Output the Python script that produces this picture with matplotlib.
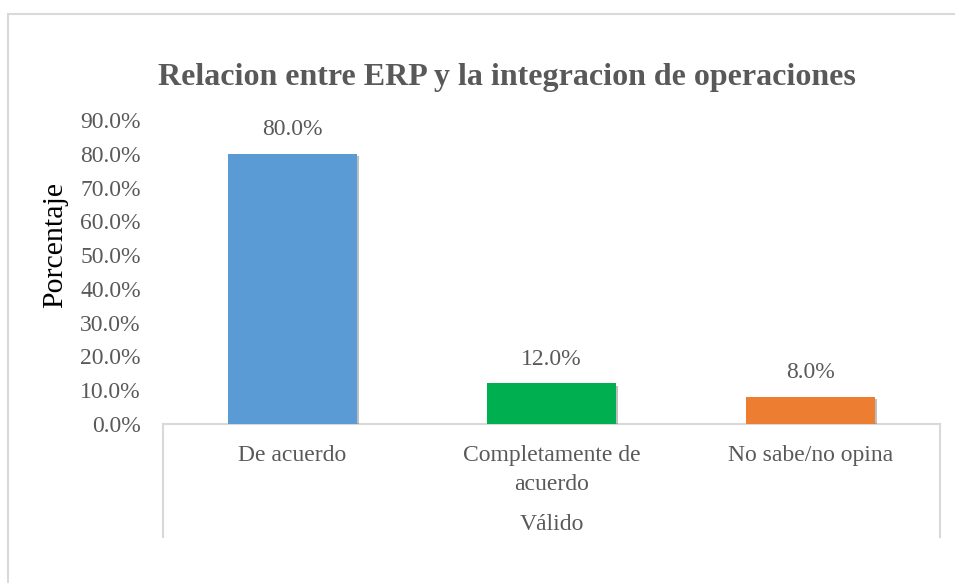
import matplotlib
matplotlib.use("Agg")
import matplotlib.pyplot as plt
from matplotlib.patches import Rectangle
from matplotlib.lines import Line2D
from matplotlib.ticker import PercentFormatter
import matplotlib.patheffects as pe

categories = ["De acuerdo", "Completamente de\nacuerdo", "No sabe/no opina"]
values = [80.0, 12.0, 8.0]
colors = ["#5B9BD5", "#00B050", "#ED7D31"]
yticks = [0, 10, 20, 30, 40, 50, 60, 70, 80, 90]
title = "Relacion entre ERP y la integracion de operaciones"
ylabel = "Porcentaje"
group_label = "Válido"

plt.rcParams['font.family'] = ['Liberation Serif', 'DejaVu Serif']
txt = "#595959"
grid = "#D9D9D9"
fs = 17

fig = plt.figure(figsize=(9.55, 5.83), dpi=100)
W, H = 955, 583

# outer chart border
fig.patches.append(Rectangle((8 / W, -0.1), 1.2, 1 - 14 / H + 0.1,
                             transform=fig.transFigure, fill=False,
                             edgecolor=grid, linewidth=1.5))

left, right, bottom, top = 163 / W, 940 / W, 1 - 424 / H, 1 - 120 / H
ax = fig.add_axes([left, bottom, right - left, top - bottom])

x = list(range(len(categories)))
bars = ax.bar(x, values, width=0.5, color=colors, zorder=3)
for b in bars:
    b.set_path_effects([pe.SimplePatchShadow(offset=(1.5, -1.5), alpha=0.25, shadow_rgbFace="black"),
                        pe.Normal()])

ax.set_xlim(-0.5, len(categories) - 0.5)
ax.set_ylim(0, 90)
ax.set_yticks(yticks)
ax.yaxis.set_major_formatter(PercentFormatter(100, decimals=1))
ax.tick_params(axis='y', length=0, labelsize=fs, labelcolor=txt, pad=16)
ax.set_xticks(x)
ax.set_xticklabels(categories, fontsize=fs, color=txt, linespacing=1.5, va='top')
ax.tick_params(axis='x', length=0, pad=15)

for s in ["top", "right", "left"]:
    ax.spines[s].set_visible(False)
ax.spines["bottom"].set_color(grid)
ax.spines["bottom"].set_linewidth(1.5)

for xi, v in zip(x, values):
    ax.annotate(f"{v:.1f}%", (xi, v), xytext=(0, 10), textcoords="offset points",
                ha="center", va="bottom", fontsize=fs, color=txt)

# multi-level axis lines
depth = (537 - 424) / (424 - 120)
for xa in (0, 1):
    ax.add_line(Line2D([xa, xa], [0, -depth], transform=ax.transAxes,
                       color=grid, linewidth=1.5, clip_on=False))
ax.text(0.5, -(524 - 424) / (424 - 120), group_label, transform=ax.transAxes,
        ha="center", va="center", fontsize=fs, color=txt)

fig.text(55 / W, 1 - 245 / H, ylabel, rotation=90, ha="center", va="center",
         fontsize=21.5, color="black")
fig.text(507 / W, 1 - 77 / H, title, ha="center", va="center",
         fontsize=23, fontweight="bold", color=txt)

fig.savefig("out.png", dpi=100)
